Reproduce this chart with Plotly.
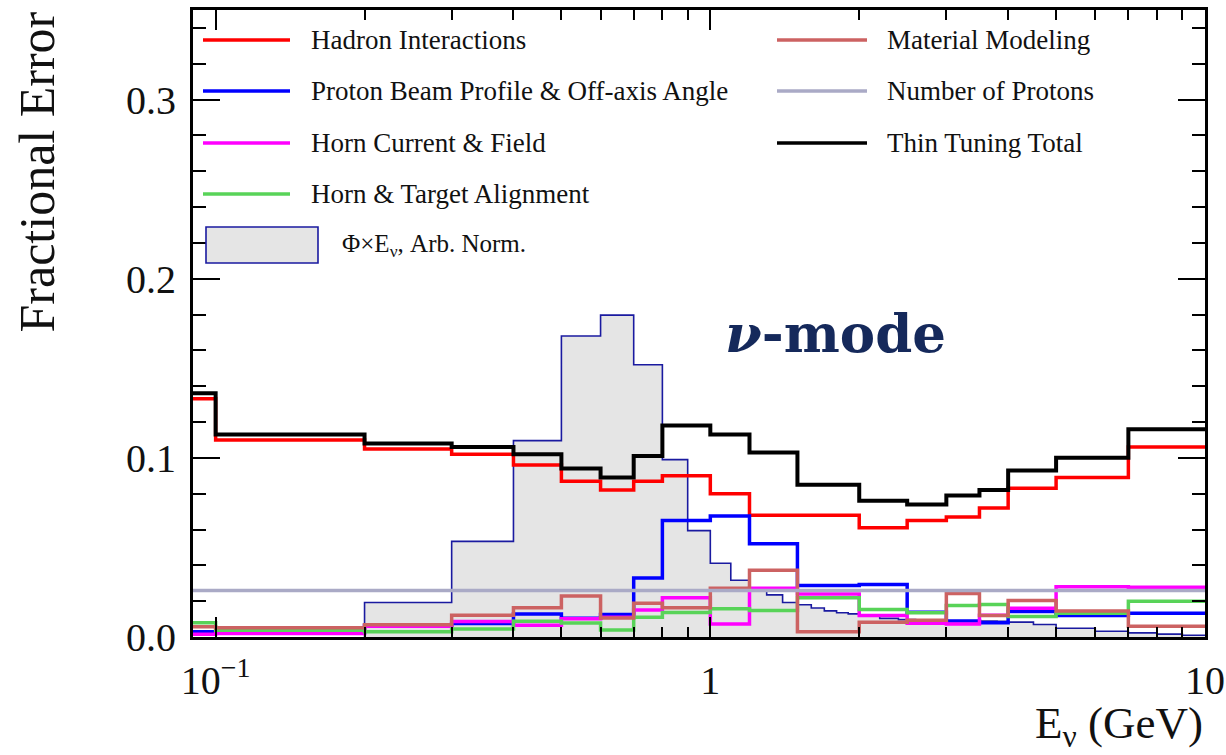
import math
import plotly.graph_objects as go

# Energy binning of the systematic error bands (GeV); first bin starts at 0
bin_edges = [0.0, 0.1, 0.2, 0.3, 0.4, 0.5, 0.6, 0.7, 0.8, 1.0, 1.2, 1.5,
             2.0, 2.5, 3.0, 3.5, 4.0, 5.0, 7.0, 10.0]

# Fractional errors per bin
hadron_interactions = [0.133, 0.110, 0.105, 0.102, 0.096, 0.087, 0.082, 0.087, 0.090,
                       0.080, 0.068, 0.068, 0.061, 0.065, 0.067, 0.072, 0.083, 0.089, 0.106]
proton_beam = [0.003, 0.0025, 0.0065, 0.0075, 0.0129, 0.0105, 0.0125, 0.033, 0.065,
               0.0675, 0.052, 0.0287, 0.0293, 0.0138, 0.009, 0.008, 0.0143, 0.012, 0.0133]
horn_current = [0.0015, 0.002, 0.006, 0.0087, 0.0066, 0.0102, 0.011, 0.0151, 0.0219,
                0.0073, 0.0272, 0.024, 0.012, 0.0077, 0.0072, 0.0121, 0.016, 0.028, 0.0278]
horn_alignment = [0.008, 0.0037, 0.0029, 0.0044, 0.0088, 0.0078, 0.0039, 0.011, 0.0137,
                  0.0158, 0.0148, 0.0219, 0.0154, 0.0135, 0.0176, 0.0182, 0.0114, 0.0132, 0.020]
material_modeling = [0.0057, 0.0052, 0.0068, 0.0122, 0.0163, 0.0229, 0.0106, 0.0188, 0.0163,
                     0.0272, 0.0373, 0.003, 0.0083, 0.0093, 0.0243, 0.012, 0.0204, 0.0145, 0.006]
number_of_protons = [0.026, 0.026, 0.026, 0.026, 0.026, 0.026, 0.026, 0.026, 0.026,
                     0.026, 0.026, 0.026, 0.026, 0.026, 0.026, 0.026, 0.026, 0.026, 0.026]
thin_tuning_total = [0.136, 0.113, 0.108, 0.106, 0.102, 0.094, 0.089, 0.101, 0.118,
                     0.113, 0.103, 0.085, 0.076, 0.074, 0.079, 0.082, 0.093, 0.100, 0.116]

# Flux x energy, arbitrary normalisation, on a finer binning
flux_edges = [0.2, 0.3, 0.4, 0.5, 0.6, 0.7, 0.8, 0.9, 1.0, 1.1, 1.2, 1.3, 1.4, 1.5,
              1.6, 1.7, 1.8, 1.9, 2.0, 2.2, 2.4, 2.6, 2.8, 3.0, 3.2, 3.4, 3.6, 3.8,
              4.0, 4.5, 5.0, 6.0, 7.0, 8.0, 9.0, 10.0]
flux_times_e = [0.0193, 0.0534, 0.1096, 0.168, 0.1797, 0.152, 0.099, 0.0594, 0.0412,
                0.0317, 0.027, 0.0235, 0.0193, 0.018, 0.0162, 0.0146, 0.0135, 0.0129,
                0.0122, 0.0104, 0.0097, 0.0094, 0.0092, 0.0091, 0.009, 0.0089, 0.0089,
                0.0087, 0.0083, 0.007, 0.0049, 0.0032, 0.0023, 0.0016, 0.001]

X_MIN, X_MAX = 0.09, 10.0
Y_MIN, Y_MAX = 0.0, 0.35

FONT = "Liberation Serif"

series = [
    ("Hadron Interactions", hadron_interactions, "#ff0000", 3.5),
    ("Proton Beam Profile & Off-axis Angle", proton_beam, "#0000ff", 3.5),
    ("Horn Current & Field", horn_current, "#ff00ff", 3.5),
    ("Horn & Target Alignment", horn_alignment, "#58d358", 3.5),
    ("Material Modeling", material_modeling, "#cc6262", 3.5),
    ("Number of Protons", number_of_protons, "#aaaac6", 3.5),
    ("Thin Tuning Total", thin_tuning_total, "#000000", 4),
]


def step_xy(edges, values):
    """Convert histogram edges/contents into points for an 'hv' step line."""
    xs = [e if e > 0 else X_MIN / 2 for e in edges]
    ys = list(values) + [values[-1]]
    return xs, ys


fig = go.Figure()

# Flux histogram (filled, thin outline)
fx, fy = step_xy(flux_edges, flux_times_e)
fig.add_trace(go.Scatter(
    x=[fx[0]] + fx, y=[0.0] + fy, mode="lines",
    line=dict(shape="hv", color="#1a1aa0", width=1.6),
    fill="tozeroy", fillcolor="#e5e5e5", showlegend=False, hoverinfo="skip"))

for name, vals, color, width in series:
    sx, sy = step_xy(bin_edges, vals)
    fig.add_trace(go.Scatter(
        x=sx, y=sy, mode="lines", name=name,
        line=dict(shape="hv", color=color, width=width), showlegend=False))

# Plot-area geometry in pixels, for placing legend and titles
W, H = 1226, 755
PL, PR, PT, PB = 193, 1205, 10, 637


def px(x):
    return (x - PL) / (PR - PL)


def py(y):
    return (PB - y) / (PB - PT)


shapes = []
annotations = []

# Two-column legend
left_col = series[:4]
right_col = series[4:]
row_y = [40, 91, 143, 194]
for (name, vals, color, width), y in zip(left_col, row_y):
    shapes.append(dict(type="line", xref="paper", yref="paper",
                       x0=px(203), x1=px(290), y0=py(y), y1=py(y),
                       line=dict(color=color, width=3.5)))
    annotations.append(dict(text=name, xref="paper", yref="paper",
                            x=px(309), y=py(y), xanchor="left", yanchor="middle",
                            showarrow=False, font=dict(family=FONT, size=27, color="#111")))
for (name, vals, color, width), y in zip(right_col, row_y):
    shapes.append(dict(type="line", xref="paper", yref="paper",
                       x0=px(777), x1=px(867), y0=py(y), y1=py(y),
                       line=dict(color=color, width=3.5)))
    annotations.append(dict(text=name, xref="paper", yref="paper",
                            x=px(885), y=py(y), xanchor="left", yanchor="middle",
                            showarrow=False, font=dict(family=FONT, size=27, color="#111")))

shapes.append(dict(type="rect", xref="paper", yref="paper",
                   x0=px(206), x1=px(318), y0=py(263), y1=py(227),
                   fillcolor="#e5e5e5", line=dict(color="#1a1aa0", width=1.6)))
annotations.append(dict(text="Φ×E<sub>ν</sub>, Arb. Norm.", xref="paper", yref="paper",
                        x=px(340), y=py(245), xanchor="left", yanchor="middle",
                        showarrow=False, font=dict(family=FONT, size=25, color="#111")))

# Beam mode label
annotations.append(dict(text="<b><i>ν</i>-mode</b>", xref="paper", yref="paper",
                        x=px(835), y=py(333), xanchor="center", yanchor="middle",
                        showarrow=False,
                        font=dict(family="DejaVu Serif", size=53, color="#15295b")))

# Axis titles, aligned to the ends of the axes
annotations.append(dict(text="Fractional Error", xref="paper", yref="paper",
                        x=px(36), y=1.0, xanchor="center", yanchor="top",
                        textangle=-90, showarrow=False,
                        font=dict(family=FONT, size=50, color="#111")))
annotations.append(dict(text="E<sub>ν</sub> (GeV)", xref="paper", yref="paper",
                        x=1.0, y=py(726), xanchor="right", yanchor="middle",
                        showarrow=False, font=dict(family=FONT, size=45, color="#111")))

fig.update_layout(
    width=W, height=H,
    margin=dict(l=PL, r=W - PR, t=PT, b=H - PB),
    paper_bgcolor="white", plot_bgcolor="white",
    showlegend=False,
    shapes=shapes, annotations=annotations,
    xaxis=dict(
        type="log", range=[math.log10(X_MIN), math.log10(X_MAX)],
        automargin=False,
        showline=True, linecolor="black", linewidth=3, mirror="ticks",
        ticks="inside", ticklen=20, tickwidth=2, tickcolor="black",
        tickvals=[0.1, 1, 10], ticktext=["10<sup>−1</sup>", "1", "10"],
        tickfont=dict(family=FONT, size=40, color="#111"),
        ticklabelstandoff=6,
        minor=dict(ticks="inside", ticklen=10, tickwidth=2, tickcolor="black",
                   dtick="D1", showgrid=False),
        showgrid=False, zeroline=False,
    ),
    yaxis=dict(
        range=[Y_MIN, Y_MAX], tick0=0, dtick=0.1, tickformat=".1f",
        automargin=False,
        showline=True, linecolor="black", linewidth=3, mirror="ticks",
        ticks="inside", ticklen=27, tickwidth=2, tickcolor="black",
        tickfont=dict(family=FONT, size=40, color="#111"),
        ticklabelstandoff=6,
        minor=dict(ticks="inside", ticklen=13, tickwidth=2, tickcolor="black",
                   dtick=0.02, showgrid=False),
        showgrid=False, zeroline=False,
    ),
)

fig.write_html("out.html")
